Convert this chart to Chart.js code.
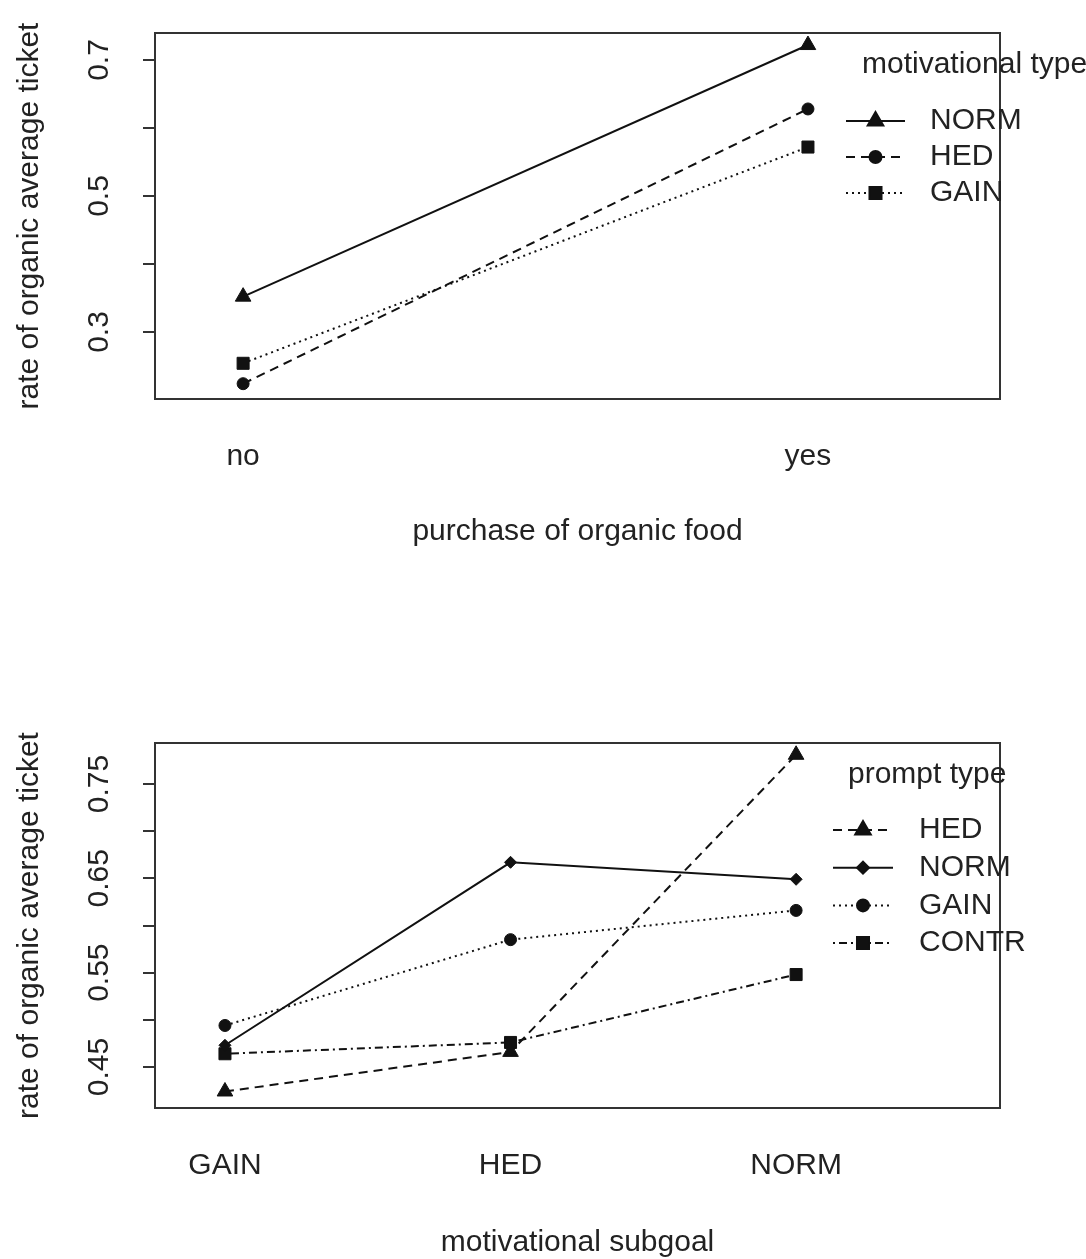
<!DOCTYPE html>
<html>
<head>
<meta charset="utf-8">
<script src="https://cdn.jsdelivr.net/npm/chart.js@4/dist/chart.umd.min.js"></script>
<style>
  body { margin: 0; background: #fff; }
  canvas { position: absolute; left: 0; }
</style>
</head>
<body>
<canvas id="topChart" width="1086" height="630" style="top:0"></canvas>
<canvas id="bottomChart" width="1086" height="629" style="top:630px"></canvas>
<script>
// Top panel: purchase of organic food x motivational type
const topCategories = ['no', 'yes'];
const topSeriesNames = ['NORM', 'HED', 'GAIN'];
const topNorm = [0.352, 0.722];
const topHed = [0.224, 0.628];
const topGain = [0.254, 0.572];
const topTicks = [0.3, 0.4, 0.5, 0.6, 0.7];
const topTickLabels = ['0.3', '', '0.5', '', '0.7'];

// Bottom panel: motivational subgoal x prompt type
const bottomCategories = ['GAIN', 'HED', 'NORM'];
const bottomSeriesNames = ['HED', 'NORM', 'GAIN', 'CONTR'];
const bottomHed = [0.424, 0.466, 0.781];
const bottomNorm = [0.473, 0.667, 0.649];
const bottomGain = [0.494, 0.585, 0.616];
const bottomContr = [0.464, 0.476, 0.548];
const bottomTicks = [0.45, 0.50, 0.55, 0.60, 0.65, 0.70, 0.75];
const bottomTickLabels = ['0.45', '', '0.55', '', '0.65', '', '0.75'];

const FONT = 'Liberation Sans, Arial, sans-serif';
const INK = '#222';

// R style line types
const LTY = {
    solid: [],
    dashed: [9, 6],
    dotted: [2, 4],
    dotdash: [2, 4, 8, 4]
};

function toPoints(values) {
    return values.map((v, i) => ({x: i + 1, y: v}));
}

function series(label, values, dash, pointStyle, radius) {
    return {
        label: label,
        data: toPoints(values),
        borderColor: '#111',
        backgroundColor: '#111',
        borderWidth: 2,
        borderDash: dash,
        pointStyle: pointStyle,
        pointRadius: radius,
        pointBackgroundColor: '#111',
        pointBorderColor: '#111',
        pointBorderWidth: 1,
        tension: 0,
        clip: false
    };
}

// Draws the box around the plot area
const boxPlugin = {
    id: 'box',
    afterDraw(chart) {
        const a = chart.chartArea;
        const ctx = chart.ctx;
        ctx.save();
        ctx.strokeStyle = '#333';
        ctx.lineWidth = 2;
        ctx.strokeRect(a.left, a.top, a.right - a.left, a.bottom - a.top);
        ctx.restore();
    }
};

// R-like legend with line + symbol, placed inside the plot
const rLegendPlugin = {
    id: 'rLegend',
    afterDraw(chart, args, opts) {
        const ctx = chart.ctx;
        ctx.save();
        ctx.fillStyle = INK;
        ctx.font = '30px ' + FONT;
        ctx.textBaseline = 'middle';
        ctx.textAlign = 'left';
        ctx.fillText(opts.title, opts.titleX, opts.titleY);
        chart.data.datasets.forEach((ds, i) => {
            const y = opts.rowY + i * opts.rowGap;
            ctx.strokeStyle = ds.borderColor;
            ctx.lineWidth = ds.borderWidth;
            ctx.setLineDash(ds.borderDash);
            ctx.beginPath();
            ctx.moveTo(opts.lineX0, y);
            ctx.lineTo(opts.lineX1, y);
            ctx.stroke();
            ctx.setLineDash([]);
            ctx.fillStyle = '#111';
            Chart.helpers.drawPoint(ctx, {
                pointStyle: ds.pointStyle,
                radius: ds.pointRadius,
                rotation: 0,
                borderWidth: 1
            }, (opts.lineX0 + opts.lineX1) / 2, y);
            ctx.fillStyle = INK;
            ctx.fillText(ds.label, opts.labelX, y);
        });
        ctx.restore();
    }
};

function makeChart(id, cfg) {
    const ctx = document.getElementById(id).getContext('2d');
    return new Chart(ctx, {
        type: 'line',
        data: { datasets: cfg.datasets },
        options: {
            responsive: false,
            animation: false,
            layout: { padding: { left: 0, right: 86, top: cfg.padTop, bottom: 0 } },
            plugins: {
                legend: { display: false },
                tooltip: { enabled: false },
                rLegend: cfg.legend
            },
            scales: {
                x: {
                    type: 'linear',
                    min: cfg.xMin,
                    max: cfg.xMax,
                    afterBuildTicks: s => { s.ticks = cfg.categories.map((c, i) => ({value: i + 1})); },
                    afterFit: s => {
                        s.height = cfg.xHeight;
                        s.paddingLeft = 0;
                        s.paddingRight = 0;
                    },
                    grid: { display: false, drawTicks: false },
                    border: { display: false },
                    ticks: {
                        color: INK,
                        padding: 43,
                        maxRotation: 0,
                        autoSkip: false,
                        font: { family: FONT, size: 30, lineHeight: 1 },
                        callback: (v) => cfg.categories[Math.round(v) - 1]
                    },
                    title: {
                        display: true,
                        text: cfg.xTitle,
                        color: INK,
                        font: { family: FONT, size: 30, lineHeight: 1 },
                        padding: { top: 0, bottom: cfg.xTitlePad }
                    }
                },
                y: {
                    type: 'linear',
                    min: cfg.yMin,
                    max: cfg.yMax,
                    afterBuildTicks: s => { s.ticks = cfg.ticks.map(v => ({value: v})); },
                    afterFit: s => {
                        s.width = 155;
                        s.paddingTop = 0;
                        s.paddingBottom = 0;
                    },
                    grid: {
                        drawOnChartArea: false,
                        drawTicks: true,
                        tickLength: 12,
                        color: '#333',
                        lineWidth: 2
                    },
                    border: { display: false },
                    ticks: {
                        color: INK,
                        padding: cfg.yTickPad,
                        minRotation: 90,
                        maxRotation: 90,
                        crossAlign: 'center',
                        autoSkip: false,
                        font: { family: FONT, size: 30, lineHeight: 1 },
                        callback: (v, i) => cfg.tickLabels[i]
                    },
                    title: {
                        display: true,
                        text: 'rate of organic average ticket',
                        color: INK,
                        font: { family: FONT, size: 30, lineHeight: 1 },
                        padding: { top: 15, bottom: 0 }
                    }
                }
            }
        },
        plugins: [boxPlugin, rLegendPlugin]
    });
}

document.addEventListener('DOMContentLoaded', function() {
    makeChart('topChart', {
        categories: topCategories,
        datasets: [
            series(topSeriesNames[0], topNorm, LTY.solid, 'triangle', 9),
            series(topSeriesNames[1], topHed, LTY.dashed, 'circle', 6),
            series(topSeriesNames[2], topGain, LTY.dotted, 'rect', 8.5)
        ],
        padTop: 33,
        xMin: 0.844, xMax: 2.34,
        yMin: 0.2015, yMax: 0.7397,
        ticks: topTicks,
        tickLabels: topTickLabels,
        yTickPad: 22,
        xHeight: 231,
        xTitle: 'purchase of organic food',
        xTitlePad: 83,
        legend: {
            title: 'motivational type', titleX: 862, titleY: 65,
            lineX0: 846, lineX1: 905, labelX: 930, rowY: 121, rowGap: 36
        }
    });

    makeChart('bottomChart', {
        categories: bottomCategories,
        datasets: [
            series(bottomSeriesNames[0], bottomHed, LTY.dashed, 'triangle', 9),
            series(bottomSeriesNames[1], bottomNorm, LTY.solid, 'rectRot', 6),
            series(bottomSeriesNames[2], bottomGain, LTY.dotted, 'circle', 6),
            series(bottomSeriesNames[3], bottomContr, LTY.dotdash, 'rect', 8.5)
        ],
        padTop: 113,
        xMin: 0.755, xMax: 3.714,
        yMin: 0.4065, yMax: 0.7935,
        ticks: bottomTicks,
        tickLabels: bottomTickLabels,
        yTickPad: 14,
        xHeight: 151,
        xTitle: 'motivational subgoal',
        xTitlePad: 1,
        legend: {
            title: 'prompt type', titleX: 848, titleY: 145,
            lineX0: 833, lineX1: 893, labelX: 919, rowY: 200, rowGap: 37.7
        }
    });
});
</script>
</body>
</html>
